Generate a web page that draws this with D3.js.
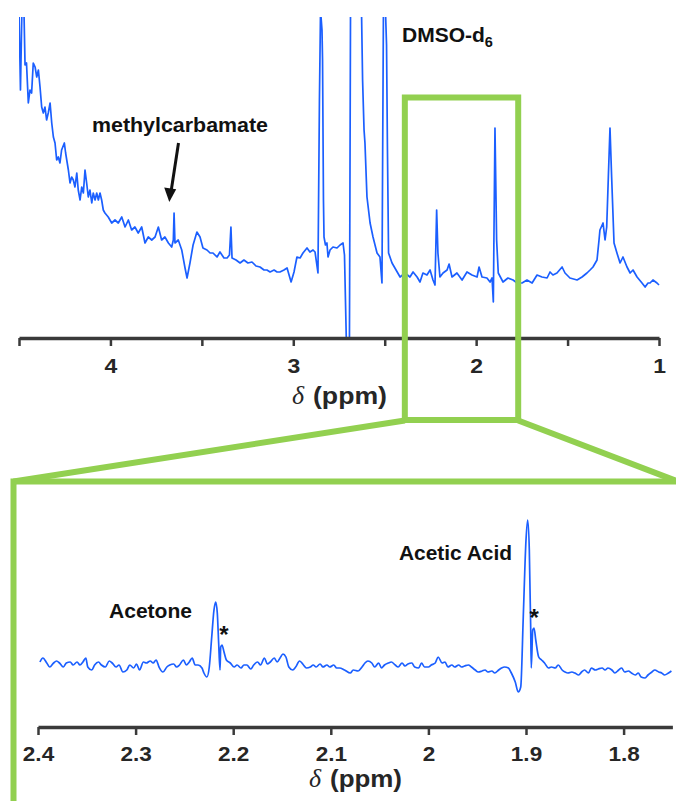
<!DOCTYPE html>
<html>
<head>
<meta charset="utf-8">
<script src="https://cdn.jsdelivr.net/npm/d3@7"></script>
<style>
  html, body { margin: 0; padding: 0; background: #fff; }
  svg { display: block; }
  text { font-family: "Liberation Sans", Arial, Helvetica, sans-serif; }
</style>
</head>
<body>
<svg id="chart" width="676" height="801"></svg>
<script>
// ---------------- DATA ----------------
// Full 1H NMR spectrum (ppm, intensity in arbitrary units)
const topPpm = [4.500,4.492,4.484,4.473,4.467,4.459,4.449,4.440,4.431,4.422,4.412,4.403,4.394,4.385,4.376,4.367,4.358,4.349,4.340,4.330,
4.321,4.312,4.303,4.294,4.285,4.276,4.267,4.252,4.245,4.230,4.221,4.212,4.203,4.194,4.184,4.176,4.166,4.157,4.148,4.139,
4.130,4.121,4.112,4.102,4.094,4.084,4.075,4.066,4.057,4.048,4.039,4.030,4.012,3.993,3.975,3.957,3.938,3.920,3.902,3.884,
3.866,3.848,3.829,3.811,3.793,3.774,3.756,3.738,3.720,3.702,3.683,3.665,3.656,3.652,3.647,3.629,3.610,3.592,3.581,3.565,
3.548,3.527,3.510,3.494,3.472,3.455,3.439,3.417,3.401,3.379,3.362,3.349,3.341,3.335,3.313,3.291,3.270,3.248,3.226,3.204,
3.182,3.160,3.144,3.127,3.105,3.089,3.073,3.051,3.034,3.012,2.996,2.980,2.963,2.947,2.925,2.909,2.892,2.881,2.865,2.857,
2.851,2.843,2.840,2.835,2.832,2.824,2.816,2.810,2.799,2.783,2.761,2.744,2.728,2.720,2.709,2.693,2.687,2.627,2.621,2.613,
2.608,2.597,2.580,2.564,2.542,2.526,2.515,2.507,2.496,2.490,2.485,2.479,2.460,2.438,2.416,2.389,2.362,2.345,2.323,2.307,
2.291,2.269,2.252,2.236,2.225,2.216,2.209,2.198,2.181,2.159,2.148,2.132,2.105,2.077,2.050,2.023,1.995,1.984,1.968,1.941,
1.924,1.913,1.906,1.897,1.888,1.879,1.853,1.826,1.798,1.776,1.749,1.722,1.694,1.667,1.640,1.612,1.596,1.580,1.558,1.530,
1.514,1.487,1.448,1.421,1.394,1.377,1.361,1.339,1.328,1.323,1.306,1.295,1.286,1.277,1.268,1.259,1.246,1.230,1.213,1.197,
1.175,1.158,1.142,1.120,1.093,1.076,1.060,1.049,1.033,1.011,1.000];
const topInt = [328,248,328,328,273,275,235,248,245,275,271,261,268,251,231,225,231,218,225,235,
215,201,195,178,181,175,188,195,185,168,155,161,158,151,165,148,138,151,145,168,
155,141,148,135,145,138,145,138,145,138,128,125,121,115,118,115,121,111,118,108,
111,105,111,95,101,98,101,111,98,101,95,91,98,125,95,98,88,70,60,75,
93,106,101,90,88,85,85,81,86,80,80,83,111,80,78,75,78,75,76,72,
71,68,68,66,68,66,66,68,70,56,66,81,80,85,90,86,88,86,65,238,
328,308,278,138,101,93,95,81,88,91,90,93,95,83,-10,-10,328,328,258,208,
195,141,115,101,85,81,55,328,328,293,188,85,75,68,61,65,61,66,61,56,
65,63,68,58,53,128,85,61,65,68,74,61,65,58,66,63,61,71,61,60,
56,60,36,210,98,65,56,60,58,55,55,58,55,63,61,60,66,63,65,71,
65,60,58,61,65,68,71,78,98,108,115,98,111,161,210,161,95,85,75,81,
71,65,68,61,55,51,55,55,58,55,53];
const topTicks = [4.5, 4, 3.5, 3, 2.5, 2, 1.5, 1];
const topTickLabels = ["", "4", "", "3", "", "2", "", "1"];

// Zoomed region 2.4 - 1.75 ppm
const zoomPpm = [2.398,2.395,2.391,2.388,2.384,2.381,2.378,2.374,2.371,2.367,2.364,2.360,2.357,2.354,2.351,2.349,2.345,2.342,2.338,2.335,
2.331,2.327,2.324,2.320,2.317,2.313,2.309,2.306,2.302,2.299,2.296,2.292,2.289,2.285,2.282,2.279,2.276,2.272,2.268,2.265,
2.261,2.258,2.255,2.251,2.248,2.245,2.242,2.239,2.236,2.232,2.230,2.227,2.2245,2.222,2.2197,2.2179,2.2163,2.2149,2.2135,2.2128,
2.2115,2.2094,2.207,2.203,2.199,2.196,2.192,2.189,2.186,2.182,2.179,2.175,2.172,2.168,2.165,2.162,2.158,2.155,2.152,2.149,
2.146,2.143,2.139,2.136,2.132,2.128,2.125,2.121,2.118,2.115,2.111,2.108,2.104,2.101,2.097,2.094,2.091,2.086,2.080,2.077,
2.072,2.068,2.065,2.062,2.058,2.055,2.051,2.048,2.045,2.041,2.038,2.034,2.031,2.027,2.024,2.021,2.017,2.014,2.010,2.007,
2.004,2.000,1.997,1.993,1.990,1.986,1.983,1.980,1.976,1.973,1.969,1.966,1.963,1.959,1.956,1.952,1.949,1.945,1.942,1.939,
1.935,1.932,1.928,1.925,1.922,1.918,1.915,1.911,1.908,1.9054,1.9028,1.900,1.8983,1.8966,1.8952,1.8946,1.8931,1.8918,1.890,1.887,
1.884,1.881,1.877,1.874,1.870,1.867,1.863,1.860,1.857,1.853,1.850,1.846,1.843,1.840,1.836,1.833,1.829,1.826,1.822,1.819,
1.816,1.812,1.809,1.805,1.802,1.799,1.795,1.792,1.788,1.785,1.782,1.778,1.775,1.771,1.768,1.764,1.761,1.758,1.754,1.751];
const zoomInt = [38,42,37,33,37,39,37,33,37,38,35,38,35,38,42,33,30,35,38,35,
33,39,37,33,35,28,30,35,32,36,30,38,37,39,37,40,33,28,33,35,
36,33,35,40,35,38,42,35,35,32,27,23,33,63,90,98,87,57,30,53,
55,48,40,37,33,35,32,35,35,31,35,38,35,42,36,38,42,38,42,46,
43,33,30,33,39,35,32,33,35,33,36,33,35,33,35,32,32,30,27,30,
29,33,37,39,37,33,37,32,35,37,38,35,33,37,34,36,37,33,32,37,
33,33,35,37,43,37,38,33,35,33,35,33,34,35,33,30,28,29,30,28,
29,27,30,32,33,32,27,18,8,13,83,160,180,150,73,32,70,72,60,43,
40,37,32,33,32,35,30,28,27,28,27,25,28,30,27,32,30,31,32,30,
32,30,27,30,32,28,29,27,25,27,23,22,25,28,30,28,27,25,27,29];
const zoomTicks = [2.4, 2.3, 2.2, 2.1, 2.0, 1.9, 1.8];
const zoomTickLabels = ["2.4", "2.3", "2.2", "2.1", "2", "1.9", "1.8"];
const zoomWindow = [2.39, 1.77];

// ---------------- DRAWING ----------------
const svg = d3.select("#chart");
const BLUE = "#1b5fff", GREEN = "#92d050", AXIS = "#3a3a3a", INK = "#111";

const xTop = d3.scaleLinear().domain([4.5, 1]).range([19, 659]);
const yTop = d3.scaleLinear().domain([0, 321]).range([338, 17]);
const xZoom = d3.scaleLinear().domain([2.4, 1.75]).range([38, 672.4]);
const yZoom = d3.scaleLinear().domain([0, 200]).range([700, 500]);

const defs = svg.append("defs");
defs.append("clipPath").attr("id", "clipTop").append("rect")
  .attr("x", 19).attr("y", 17).attr("width", 642).attr("height", 321);
defs.append("clipPath").attr("id", "clipZoom").append("rect")
  .attr("x", 38).attr("y", 484).attr("width", 638).attr("height", 243);

function stretch(sel, factor) {
  sel.each(function () {
    const w = this.getComputedTextLength();
    if (w > 0) {
      this.setAttribute("textLength", w * factor);
      this.setAttribute("lengthAdjust", "spacingAndGlyphs");
    }
  });
}
function label(x, y, str, opts = {}) {
  const t = svg.append("text")
    .attr("x", x).attr("y", y)
    .attr("font-size", opts.size || 18)
    .attr("font-weight", opts.weight || "bold")
    .attr("font-style", opts.style || "normal")
    .attr("text-anchor", opts.anchor || "start")
    .attr("fill", opts.fill || INK)
    .text(str);
  if (opts.family) t.style("font-family", opts.family);
  if (opts.width) t.attr("textLength", opts.width).attr("lengthAdjust", "spacingAndGlyphs");
  return t;
}

// top spectrum
const topData = topPpm.map((p, i) => [p, topInt[i]]);
svg.append("path")
  .datum(topData)
  .attr("clip-path", "url(#clipTop)")
  .attr("fill", "none").attr("stroke", BLUE).attr("stroke-width", 1.7)
  .attr("stroke-linejoin", "round")
  .attr("d", d3.line().x(d => xTop(d[0])).y(d => yTop(d[1])));

// top axis
const gTop = svg.append("g").attr("transform", "translate(0,338)")
  .call(d3.axisBottom(xTop).tickValues(topTicks).tickSize(8).tickSizeOuter(0)
    .tickFormat((d, i) => topTickLabels[i]));
gTop.select(".domain").attr("stroke", AXIS).attr("stroke-width", 3.5);
gTop.selectAll(".tick line").attr("stroke", AXIS).attr("stroke-width", 2.5);
gTop.selectAll(".tick text").attr("y", 35).attr("dy", 0)
  .attr("font-size", 20.5).attr("font-weight", "bold").attr("fill", "#262626")
  .style("font-family", "'Liberation Sans', Arial, sans-serif");
stretch(gTop.selectAll(".tick text"), 1.12);

// top axis title
label(292, 404, "δ", { size: 26, weight: "normal", style: "italic", family: "'Liberation Serif', 'Times New Roman', serif", fill: "#262626" });
label(313, 404, "(ppm)", { size: 23.5, width: 74, fill: "#262626" });

// annotations top
label(92, 131.5, "methylcarbamate", { size: 19.5, width: 176 });
const dm = svg.append("text").attr("x", 402).attr("y", 42).attr("font-size", 21).attr("font-weight", "bold").attr("fill", INK);
dm.append("tspan").text("DMSO-d");
dm.append("tspan").attr("font-size", 14.5).attr("dy", 5).text("6");

// arrow
svg.append("line").attr("x1", 178.5).attr("y1", 143).attr("x2", 171.3).attr("y2", 190)
  .attr("stroke", INK).attr("stroke-width", 3);
svg.append("path").attr("d", "M169.3,202 L164.2,187.4 L176.2,189.2 Z").attr("fill", INK);

// zoom window + connectors
const zx0 = xTop(zoomWindow[0]), zx1 = xTop(zoomWindow[1]);
svg.append("rect").attr("x", zx0).attr("y", 97.5).attr("width", zx1 - zx0).attr("height", 322.5)
  .attr("fill", "none").attr("stroke", GREEN).attr("stroke-width", 6);
svg.append("path")
  .attr("d", `M${zx0},420.5 L13.5,481.5 M${zx1},420.5 L678,481.5`)
  .attr("stroke", GREEN).attr("stroke-width", 6).attr("fill", "none");
svg.append("path")
  .attr("d", "M13.5,810 L13.5,481.5 L700,481.5")
  .attr("stroke", GREEN).attr("stroke-width", 6).attr("fill", "none").attr("stroke-linejoin", "miter");

// zoom spectrum
const zoomData = zoomPpm.map((p, i) => [p, zoomInt[i]]);
svg.append("path")
  .datum(zoomData)
  .attr("clip-path", "url(#clipZoom)")
  .attr("fill", "none").attr("stroke", BLUE).attr("stroke-width", 1.7)
  .attr("stroke-linejoin", "round")
  .attr("d", d3.line().curve(d3.curveMonotoneX).x(d => xZoom(d[0])).y(d => yZoom(d[1])));

// zoom axis
const gZoom = svg.append("g").attr("transform", "translate(0,727)")
  .call(d3.axisBottom(xZoom).tickValues(zoomTicks).tickSize(8).tickSizeOuter(0)
    .tickFormat((d, i) => zoomTickLabels[i]));
gZoom.select(".domain").attr("stroke", AXIS).attr("stroke-width", 3.5);
gZoom.selectAll(".tick line").attr("stroke", AXIS).attr("stroke-width", 2.5);
gZoom.selectAll(".tick text").attr("y", 34).attr("dy", 0)
  .attr("font-size", 20.5).attr("font-weight", "bold").attr("fill", "#262626")
  .style("font-family", "'Liberation Sans', Arial, sans-serif");
stretch(gZoom.selectAll(".tick text"), 1.1);

label(309, 787, "δ", { size: 26, weight: "normal", style: "italic", family: "'Liberation Serif', 'Times New Roman', serif", fill: "#262626" });
label(330, 787, "(ppm)", { size: 23.5, width: 72, fill: "#262626" });

// zoom annotations
label(109, 618, "Acetone", { size: 19.5, width: 83 });
label(399, 560, "Acetic Acid", { size: 20, width: 113 });
label(xZoom(2.2095), 643, "*", { size: 24, anchor: "middle" });
label(xZoom(1.8915), 626, "*", { size: 24, anchor: "middle" });
</script>
</body>
</html>
